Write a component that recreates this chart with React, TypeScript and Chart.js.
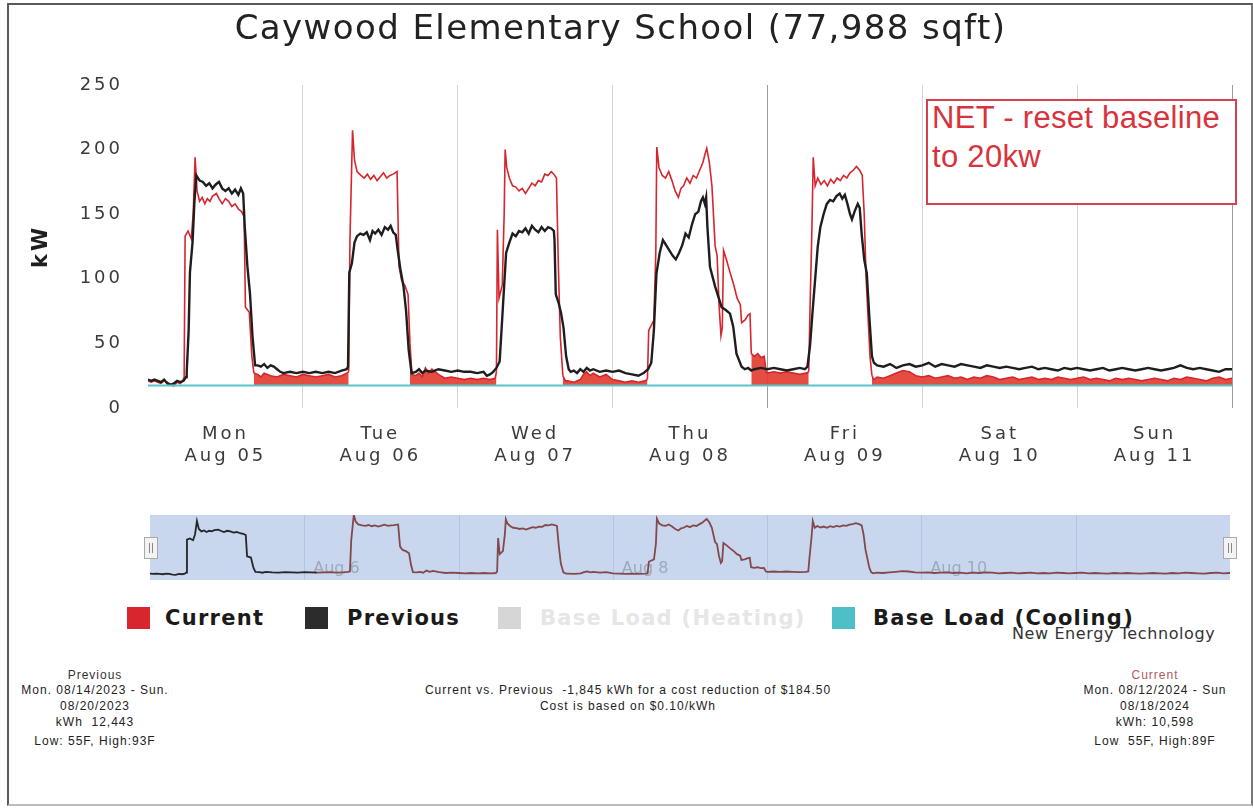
import React, { useEffect, useRef } from "react";
import { Chart, registerables } from "chart.js";

Chart.register(...registerables);

// ---------- text ----------
const TITLE = "Caywood Elementary School (77,988 sqft)";
const Y_TITLE = "kW";
const DAY_NAMES = ["Mon", "Tue", "Wed", "Thu", "Fri", "Sat", "Sun"];
const DAY_DATES = ["Aug 05", "Aug 06", "Aug 07", "Aug 08", "Aug 09", "Aug 10", "Aug 11"];
const NAV_LABELS = ["Aug 6", "Aug 8", "Aug 10"];
const NAV_LABEL_HOURS = [24, 72, 120];
const NOTE_LINES = ["NET - reset baseline", "to 20kw"];
const BRAND = "New Energy Technology";
const FOOTER_PREVIOUS = ["Previous", "Mon. 08/14/2023 - Sun.", "08/20/2023", "kWh  12,443", "Low: 55F, High:93F"];
const FOOTER_CURRENT = ["Current", "Mon. 08/12/2024 - Sun", "08/18/2024", "kWh: 10,598", "Low  55F, High:89F"];
const FOOTER_CENTER = ["Current vs. Previous  -1,845 kWh for a cost reduction of $184.50", "Cost is based on $0.10/kWh"];

// ---------- axes ----------
const Y_MIN = 0;
const Y_MAX = 250;
const Y_STEP = 50;
const WEEK_HOURS = 168;
const NAV_Y_MAX = 214;

// ---------- series: [hour of week, kW] ----------
const BASE_LOAD_COOLING_KW = 17.5;

const CURRENT: [number, number][] = [
  [0, 21], [0.5, 20], [1, 21], [1.5, 20], [2, 19], [2.5, 21], [3, 20], [3.5, 18], [4, 17], [4.5, 20], [5, 19], [5.4, 21], [5.6, 24],
  [5.75, 133], [6.2, 137], [6.7, 131], [7.0, 150], [7.3, 194], [7.6, 168], [8.0, 160], [8.4, 163], [8.8, 158], [9.2, 162], [9.6, 160],
  [10.0, 164], [10.6, 166], [11.0, 162], [11.5, 158], [12.0, 162], [12.5, 160], [13.0, 156], [13.5, 158], [14.0, 154], [14.5, 152],
  [14.9, 148], [15.1, 78], [15.7, 74], [16.1, 40], [16.4, 27],
  [17, 26], [17.5, 24], [18, 27], [19, 25], [20, 24], [21, 26], [22, 25], [23, 24], [24, 26], [25, 25], [26, 24], [27, 25], [28, 26],
  [29, 24], [30, 25], [30.8, 27],
  [31.1, 28], [31.3, 130], [31.7, 215], [32.0, 192], [32.4, 183], [33, 180], [33.5, 178], [34, 181], [34.5, 177], [35, 180], [35.5, 176],
  [36, 179], [36.5, 182], [37, 178], [37.5, 180], [38, 181], [38.6, 183], [38.9, 110], [39.3, 99], [39.8, 95], [40.3, 88], [40.6, 50], [40.9, 26],
  [41.5, 25], [42, 27], [42.5, 24], [43, 31], [43.5, 27], [44, 30], [45, 26], [46, 23], [47, 24], [48, 23], [49, 22], [50, 23], [51, 22],
  [52, 23], [53, 22], [53.8, 23],
  [54.0, 28], [54.15, 138], [54.4, 85], [54.9, 95], [55.2, 150], [55.35, 200], [55.6, 186], [56, 178], [56.5, 172], [57, 171], [57.5, 168],
  [58, 170], [58.5, 166], [59, 170], [59.5, 174], [60, 172], [60.5, 176], [61, 175], [61.5, 181], [62, 180], [62.5, 183], [62.9, 181],
  [63.3, 178], [63.6, 110], [63.9, 55], [64.3, 25], [64.7, 21],
  [65, 21], [66, 20], [67, 22], [67.5, 26], [68, 28], [68.5, 25], [69, 27], [70, 24], [71, 26], [72, 22], [73, 21], [74, 20], [75, 21],
  [76, 20], [77, 21],
  [77.4, 22], [77.6, 60], [78.0, 64], [78.4, 68], [78.7, 120], [78.85, 202], [79.2, 186], [79.7, 180], [80.2, 178], [80.7, 183], [81.2, 176],
  [81.7, 168], [82.2, 163], [82.6, 170], [83.0, 172], [83.5, 178], [84, 174], [84.5, 180], [85, 178], [85.5, 184], [86, 190], [86.3, 196],
  [86.6, 201], [87.0, 190], [87.4, 172], [87.9, 125], [88.2, 118], [88.5, 80], [88.8, 56], [89.0, 62], [89.2, 122], [89.7, 114], [90.2, 105],
  [90.8, 95], [91.3, 85], [91.8, 80], [92.0, 66], [92.5, 68], [93.0, 72], [93.3, 73], [93.5, 42], [94, 40], [94.5, 42], [95, 39], [95.5, 40],
  [95.8, 28],
  [96, 27], [97, 28], [98, 27], [99, 28], [100, 27], [101, 26], [102, 27],
  [102.4, 28], [102.6, 76], [102.9, 140], [103.1, 194], [103.4, 172], [103.8, 178], [104.3, 173], [104.8, 176], [105.3, 172], [105.8, 177],
  [106.3, 174], [106.8, 178], [107.3, 176], [107.8, 180], [108.3, 178], [108.8, 182], [109.3, 184], [109.8, 187], [110.3, 184], [110.7, 180],
  [111.0, 150], [111.3, 100], [111.6, 70], [111.9, 40], [112.2, 25], [112.5, 22],
  [113, 24], [114, 23], [115, 25], [116, 27], [117, 29], [118, 28], [119, 25], [120, 24], [121, 25], [122, 23], [123, 24], [124, 25],
  [125, 23], [126, 24], [127, 22], [128, 24], [129, 23], [130, 25], [131, 24], [132, 22], [133, 23], [134, 24], [135, 22], [136, 23],
  [137, 24], [138, 22], [139, 23], [140, 22], [141, 24], [142, 23], [143, 22], [144, 23], [145, 24], [146, 22], [147, 23], [148, 22],
  [149, 21], [150, 23], [151, 22], [152, 23], [153, 22], [154, 21], [155, 22], [156, 23], [157, 22], [158, 21], [159, 23], [160, 22],
  [161, 24], [162, 23], [163, 22], [164, 21], [165, 23], [166, 24], [167, 22], [168, 23],
];

const PREVIOUS: [number, number][] = [
  [0, 22], [0.5, 21], [1, 22], [1.5, 21], [2, 20], [2.5, 22], [3, 19], [3.5, 18], [4, 19], [4.5, 21], [5, 20], [5.5, 21], [5.9, 24],
  [6.0, 28], [6.3, 60], [6.5, 105], [6.9, 128], [7.2, 160], [7.5, 180], [8, 176], [8.5, 175], [9, 172], [9.5, 174], [10, 170], [10.5, 173],
  [11, 175], [11.5, 170], [12, 168], [12.5, 170], [13, 166], [13.5, 169], [14, 165], [14.4, 170], [14.75, 166], [15.0, 140], [15.4, 110],
  [15.8, 89], [16.2, 55], [16.6, 33],
  [17, 33], [17.5, 32], [18, 34], [18.5, 31], [19, 33], [19.5, 32], [20, 30], [20.5, 28], [21, 27], [22, 28], [23, 27], [24, 28], [25, 27],
  [26, 28], [27, 27], [28, 28], [29, 27], [30, 29], [30.8, 30],
  [31.0, 32], [31.2, 105], [31.6, 112], [32.0, 128], [32.4, 133], [32.9, 135], [33.4, 134], [33.9, 136], [34.4, 130], [34.8, 137], [35.2, 135],
  [35.7, 138], [36.2, 134], [36.7, 140], [37.2, 138], [37.6, 141], [38.0, 136], [38.4, 134], [38.7, 122], [39.1, 108], [39.6, 94], [40.0, 75],
  [40.4, 45], [40.85, 27],
  [41.5, 28], [42, 30], [42.5, 27], [43, 29], [44, 28], [45, 30], [46, 29], [47, 28], [48, 29], [49, 28], [50, 28], [51, 27], [52, 28],
  [52.5, 25], [53, 26], [53.5, 28],
  [54.0, 31], [54.5, 36], [55.0, 78], [55.5, 120], [56.0, 128], [56.5, 135], [57, 133], [57.5, 137], [58, 136], [58.5, 139], [59, 135],
  [59.5, 141], [60, 138], [60.5, 136], [61, 140], [61.5, 137], [62, 140], [62.5, 139], [62.9, 137], [63.0, 130], [63.2, 88], [63.6, 82],
  [64.0, 74], [64.4, 62], [64.8, 40], [65.2, 30],
  [65.5, 28], [66, 29], [66.5, 27], [67, 30], [67.5, 28], [68, 31], [68.5, 29], [69, 30], [70, 28], [71, 29], [72, 28], [73, 29], [74, 27],
  [75, 26], [76, 25], [76.8, 27],
  [77.5, 30], [78.0, 35], [78.4, 60], [78.8, 104], [79.3, 120], [79.8, 130], [80.3, 126], [80.8, 122], [81.3, 118], [81.8, 115], [82.3, 120],
  [82.8, 126], [83.3, 135], [83.8, 132], [84.3, 142], [84.8, 150], [85.3, 152], [85.7, 160], [86.0, 163], [86.3, 158], [86.5, 163],
  [86.7, 140], [87.1, 109], [87.9, 94], [88.9, 78], [89.5, 76], [90.2, 73], [90.7, 63], [91.2, 42], [92.0, 32],
  [92.5, 30], [93, 31], [93.5, 29], [94, 30], [95, 31], [96, 30], [97, 31], [98, 30], [99, 29], [100, 30], [101, 31], [101.8, 30],
  [102.2, 32], [102.6, 48], [103.0, 75], [103.4, 100], [103.8, 125], [104.2, 140], [104.7, 150], [105.2, 158], [105.7, 161], [106.2, 160],
  [106.7, 164], [107.2, 166], [107.6, 162], [108.0, 165], [108.4, 158], [108.8, 150], [109.1, 146], [109.5, 152], [110.0, 158], [110.3, 155],
  [110.6, 135], [111.0, 115], [111.4, 104], [111.8, 70], [112.2, 40], [112.5, 35],
  [113, 33], [114, 32], [115, 34], [116, 31], [117, 33], [118, 34], [119, 32], [120, 33], [121, 35], [122, 32], [123, 34], [124, 33],
  [125, 32], [126, 34], [127, 33], [128, 32], [129, 31], [130, 33], [131, 32], [132, 31], [133, 32], [134, 31], [135, 30], [136, 31],
  [137, 32], [138, 30], [139, 31], [140, 30], [141, 29], [142, 31], [143, 30], [144, 31], [145, 30], [146, 29], [147, 30], [148, 31],
  [149, 29], [150, 30], [151, 31], [152, 30], [153, 29], [154, 30], [155, 31], [156, 30], [157, 29], [158, 30], [159, 31], [160, 33],
  [161, 31], [162, 30], [163, 31], [164, 30], [165, 29], [166, 28], [167, 30], [168, 30],
];

// after-hours periods where the current load above base load is shaded
const AFTER_HOURS: [number, number][] = [[16.4, 31.1], [40.6, 54.0], [64.3, 77.4], [93.5, 102.4], [112.2, 168]];

// ---------- colours ----------
const RED = "#d6262d";
const RED_FILL = "rgba(226,62,50,0.92)";
const BLACK = "#1e1e1e";
const CYAN = "#57c5cd";

const LEGEND = [
  { label: "Current", color: "#d9262e", text: "#1a1a1a", sq: 127, tx: 165 },
  { label: "Previous", color: "#2c2c2c", text: "#1a1a1a", sq: 305, tx: 347 },
  { label: "Base Load (Heating)", color: "#d6d6d6", text: "#e6e6e6", sq: 498, tx: 540 },
  { label: "Base Load (Cooling)", color: "#4fbfc7", text: "#1a1a1a", sq: 832, tx: 873 },
];

const toPoints = (s: [number, number][]) => s.map(([x, y]) => ({ x, y }));
const inAfterHours = (a: number, b: number) => AFTER_HOURS.some(([s, e]) => a >= s && b <= e);

const spacingPlugin = (px: string) => ({
  id: "letterSpacing",
  beforeUpdate(chart: any) {
    chart.ctx.letterSpacing = px;
  },
  beforeDraw(chart: any) {
    chart.ctx.letterSpacing = px;
  },
});

const navPlugin = {
  id: "navDecor",
  beforeDatasetsDraw(chart: any) {
    const { ctx, chartArea: a, scales } = chart;
    const x = scales.x;
    ctx.save();
    ctx.fillStyle = "#c8d7ee";
    ctx.fillRect(a.left, a.top, a.right - a.left, a.bottom - a.top);
    ctx.strokeStyle = "rgba(175,195,225,0.9)";
    ctx.lineWidth = 1;
    for (let h = 24; h < WEEK_HOURS; h += 24) {
      const px = Math.round(x.getPixelForValue(h)) + 0.5;
      ctx.beginPath();
      ctx.moveTo(px, a.top);
      ctx.lineTo(px, a.bottom);
      ctx.stroke();
    }
    ctx.fillStyle = "#9ea9ba";
    ctx.font = '16px "DejaVu Sans"';
    ctx.textBaseline = "middle";
    ctx.textAlign = "left";
    NAV_LABELS.forEach((l, i) => ctx.fillText(l, x.getPixelForValue(NAV_LABEL_HOURS[i]) + 9, a.bottom - 11));
    ctx.restore();
  },
  afterDraw(chart: any) {
    const { ctx, chartArea: a } = chart;
    ctx.save();
    [a.left - 6, a.right - 7].forEach((hx: number) => {
      const top = 37;
      ctx.fillStyle = "#f3f3f3";
      ctx.strokeStyle = "#a8a8a8";
      ctx.lineWidth = 1;
      ctx.fillRect(hx, top, 13, 21);
      ctx.strokeRect(hx + 0.5, top + 0.5, 13, 21);
      ctx.strokeStyle = "#888";
      [hx + 5.5, hx + 8.5].forEach((lx) => {
        ctx.beginPath();
        ctx.moveTo(lx, top + 6);
        ctx.lineTo(lx, top + 16);
        ctx.stroke();
      });
    });
    ctx.restore();
  },
};

function Lines({ lines, cx, centers, colors }: { lines: string[]; cx: number; centers: number[]; colors?: string[] }) {
  return (
    <>
      {lines.map((t, i) => (
        <div
          key={i}
          style={{
            position: "absolute",
            left: cx - 250,
            width: 500,
            top: centers[i] - 8,
            height: 16,
            lineHeight: "16px",
            textAlign: "center",
            fontFamily: '"Liberation Sans", Arial, sans-serif',
            fontSize: 12,
            letterSpacing: "1px",
            color: colors ? colors[i] : "#222",
            whiteSpace: "pre",
          }}
        >
          {t}
        </div>
      ))}
    </>
  );
}

export default function App() {
  const mainRef = useRef<HTMLCanvasElement>(null);
  const navRef = useRef<HTMLCanvasElement>(null);

  useEffect(() => {
    const basePts = [
      { x: 0, y: BASE_LOAD_COOLING_KW },
      { x: WEEK_HOURS, y: BASE_LOAD_COOLING_KW },
    ];
    const main = new Chart(mainRef.current as HTMLCanvasElement, {
      type: "line",
      data: {
        datasets: [
          {
            label: "Base Load (Cooling)",
            data: basePts,
            borderColor: CYAN,
            borderWidth: 2,
            pointRadius: 0,
            order: -1,
          },
          {
            label: "Previous",
            data: toPoints(PREVIOUS),
            borderColor: BLACK,
            borderWidth: 2.4,
            pointRadius: 0,
            order: 0,
          },
          {
            label: "Current",
            data: toPoints(CURRENT),
            borderColor: RED,
            borderWidth: 1.6,
            pointRadius: 0,
            backgroundColor: "rgba(0,0,0,0)",
            fill: { value: BASE_LOAD_COOLING_KW },
            segment: {
              backgroundColor: (c: any) =>
                inAfterHours(c.p0.parsed.x, c.p1.parsed.x) ? RED_FILL : "rgba(0,0,0,0)",
            },
            order: 1,
          },
        ] as any,
      },
      options: {
        animation: false,
        responsive: false,
        maintainAspectRatio: false,
        layout: { padding: { top: 85, right: 21, left: 0, bottom: 0 } },
        plugins: { legend: { display: false }, tooltip: { enabled: false }, title: { display: false } },
        scales: {
          x: {
            type: "linear",
            min: 0,
            max: WEEK_HOURS,
            afterFit: (s: any) => {
              s.height = 72;
            },
            border: { display: false },
            grid: {
              drawTicks: false,
              lineWidth: 1,
              color: (c: any) => {
                const v = c.tick ? c.tick.value : 0;
                if (v % 24 !== 0 || v === 0) return "rgba(0,0,0,0)";
                return v === 96 || v === 168 ? "#9c9c9c" : "#d4d4d4";
              },
            },
            ticks: {
              stepSize: 12,
              autoSkip: false,
              maxRotation: 0,
              minRotation: 0,
              padding: 16,
              color: "#3a3a3a",
              font: { family: "DejaVu Sans", size: 18 },
              callback: (v: any) => {
                const n = Number(v);
                if (n % 24 !== 12) return "";
                const d = (n - 12) / 24;
                return [DAY_NAMES[d], DAY_DATES[d]];
              },
            },
          },
          y: {
            min: Y_MIN,
            max: Y_MAX,
            afterFit: (s: any) => {
              s.width = 148;
            },
            border: { display: false },
            grid: { display: false },
            ticks: {
              stepSize: Y_STEP,
              padding: 17,
              color: "#3a3a3a",
              font: { family: "DejaVu Sans", size: 18 },
            },
            title: {
              display: true,
              text: Y_TITLE,
              color: "#1e1e1e",
              font: { family: "DejaVu Sans", size: 21, weight: "bold" },
              padding: { top: 29, bottom: 0 },
            },
          },
        },
      } as any,
      plugins: [spacingPlugin("3px")],
    });

    const nav = new Chart(navRef.current as HTMLCanvasElement, {
      type: "line",
      data: {
        datasets: [
          {
            label: "Current",
            data: toPoints(CURRENT),
            borderColor: "#7e4444",
            borderWidth: 1.8,
            pointRadius: 0,
            segment: {
              borderColor: (c: any) => (c.p0.parsed.x < 26 ? "#262626" : "#84484a"),
            },
          },
        ] as any,
      },
      options: {
        animation: false,
        responsive: false,
        maintainAspectRatio: false,
        layout: { padding: { top: 15, right: 23, left: 150, bottom: 20 } },
        plugins: { legend: { display: false }, tooltip: { enabled: false } },
        scales: {
          x: { type: "linear", min: 0, max: WEEK_HOURS, display: false },
          y: { min: 0, max: NAV_Y_MAX, display: false },
        },
      } as any,
      plugins: [navPlugin],
    });

    return () => {
      main.destroy();
      nav.destroy();
    };
  }, []);

  return (
    <div
      style={{
        position: "absolute",
        left: 0,
        top: 0,
        width: 1253,
        height: 808,
        background: "#fff",
        overflow: "hidden",
      }}
    >
      <div
        style={{
          position: "absolute",
          left: 7,
          top: 3,
          width: 1246,
          height: 803,
          border: "2px solid #5a5a5a",
          borderRightColor: "#777",
          borderBottomColor: "#bbb",
          boxSizing: "border-box",
        }}
      />
      <canvas
        ref={mainRef}
        width={1253}
        height={480}
        style={{ position: "absolute", left: 0, top: 0, width: 1253, height: 480 }}
      />
      <div
        style={{
          position: "absolute",
          left: -6,
          top: 7,
          width: 1253,
          textAlign: "center",
          fontFamily: '"DejaVu Sans", sans-serif',
          fontSize: 34,
          lineHeight: "40px",
          letterSpacing: "1.4px",
          color: "#222",
          whiteSpace: "nowrap",
        }}
      >
        {TITLE}
      </div>
      <div
        style={{
          position: "absolute",
          left: 926,
          top: 99,
          width: 311,
          height: 106,
          border: "2px solid #d5404b",
          boxSizing: "border-box",
          background: "#fff",
          paddingLeft: 4,
          fontFamily: '"Liberation Sans", Arial, sans-serif',
          fontSize: 31,
          lineHeight: "39px",
          letterSpacing: "0.3px",
          color: "#d8333d",
          whiteSpace: "nowrap",
        }}
      >
        <div style={{ marginTop: -3 }}>
          {NOTE_LINES.map((t, i) => (
            <div key={i}>{t}</div>
          ))}
        </div>
      </div>
      <canvas
        ref={navRef}
        width={1253}
        height={100}
        style={{ position: "absolute", left: 0, top: 500, width: 1253, height: 100 }}
      />
      {LEGEND.map((l) => (
        <React.Fragment key={l.label}>
          <div
            style={{
              position: "absolute",
              left: l.sq,
              top: 607,
              width: 23,
              height: 22,
              background: l.color,
            }}
          />
          <div
            style={{
              position: "absolute",
              left: l.tx,
              top: 604,
              height: 28,
              lineHeight: "28px",
              fontFamily: '"DejaVu Sans", sans-serif',
              fontWeight: "bold",
              fontSize: 21,
              letterSpacing: "1.3px",
              color: l.text,
              whiteSpace: "nowrap",
            }}
          >
            {l.label}
          </div>
        </React.Fragment>
      ))}
      <div
        style={{
          position: "absolute",
          left: 1012,
          top: 624,
          height: 20,
          lineHeight: "20px",
          fontFamily: '"DejaVu Sans", sans-serif',
          fontSize: 16,
          letterSpacing: "0.6px",
          color: "#333",
          whiteSpace: "nowrap",
        }}
      >
        {BRAND}
      </div>
      <Lines
        lines={FOOTER_PREVIOUS}
        cx={95}
        centers={[675, 690, 706, 722, 741]}
        colors={["#333", "#222", "#222", "#222", "#222"]}
      />
      <Lines lines={FOOTER_CENTER} cx={628} centers={[690, 706]} />
      <Lines
        lines={FOOTER_CURRENT}
        cx={1155}
        centers={[675, 690, 706, 722, 741]}
        colors={["#b45a60", "#222", "#222", "#222", "#222"]}
      />
    </div>
  );
}
